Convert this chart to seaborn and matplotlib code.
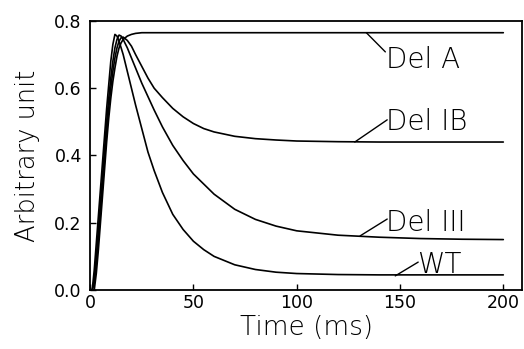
import matplotlib
matplotlib.use("Agg")
import matplotlib.pyplot as plt
import seaborn as sns
import pandas as pd

# ---- data ----
time_ms = [0, 1, 2, 3, 4, 5, 6, 7, 8, 9, 10, 11, 12, 13, 14, 15, 16, 18, 20, 22,
           25, 28, 31, 35, 40, 45, 50, 55, 60, 70, 80, 90, 100, 120, 140, 160, 180, 200]

wt = [0, 0, 0.06, 0.14, 0.22, 0.30, 0.38, 0.46, 0.54, 0.61, 0.68, 0.73, 0.76, 0.755,
      0.74, 0.72, 0.70, 0.65, 0.60, 0.55, 0.48, 0.41, 0.355, 0.29, 0.225, 0.18, 0.145,
      0.12, 0.10, 0.075, 0.061, 0.053, 0.049, 0.046, 0.045, 0.045, 0.045, 0.045]

del_iii = [0, 0, 0.03, 0.10, 0.18, 0.26, 0.34, 0.42, 0.50, 0.57, 0.63, 0.68, 0.72, 0.745,
           0.758, 0.755, 0.745, 0.72, 0.69, 0.66, 0.615, 0.575, 0.535, 0.485, 0.43, 0.385,
           0.345, 0.315, 0.285, 0.24, 0.21, 0.19, 0.176, 0.163, 0.157, 0.153, 0.151, 0.15]

del_ib = [0, 0, 0.02, 0.08, 0.15, 0.23, 0.31, 0.39, 0.47, 0.54, 0.60, 0.65, 0.69, 0.72,
          0.74, 0.75, 0.752, 0.742, 0.725, 0.70, 0.665, 0.63, 0.60, 0.572, 0.54, 0.515,
          0.495, 0.48, 0.47, 0.457, 0.45, 0.446, 0.443, 0.441, 0.44, 0.44, 0.44, 0.44]

del_a = [0, 0, 0, 0.05, 0.12, 0.20, 0.28, 0.36, 0.44, 0.51, 0.57, 0.62, 0.66, 0.695,
         0.72, 0.735, 0.745, 0.755, 0.76, 0.763, 0.765, 0.765, 0.765, 0.765, 0.765, 0.765,
         0.765, 0.765, 0.765, 0.765, 0.765, 0.765, 0.765, 0.765, 0.765, 0.765, 0.765, 0.765]

series_names = ["Del A", "Del IB", "Del III", "WT"]
x_ticks = [0, 50, 100, 150, 200]
y_ticks = [0.0, 0.2, 0.4, 0.6, 0.8]

frames = []
for name, vals in zip(series_names, [del_a, del_ib, del_iii, wt]):
    frames.append(pd.DataFrame({"time": time_ms, "value": vals, "construct": name}))
df = pd.concat(frames, ignore_index=True)

# ---- style ----
sns.set_theme(style="ticks")
plt.rcParams["font.family"] = ["DejaVu Sans"]
plt.rcParams["text.color"] = "black"
plt.rcParams["axes.labelcolor"] = "black"

fig = plt.figure(figsize=(5.24, 3.49), dpi=100)
ax = fig.add_axes([0.172, 0.169, 0.824, 0.771])

sns.lineplot(data=df, x="time", y="value", hue="construct",
             palette=["black"] * 4, legend=False, linewidth=1.2, ax=ax,
             estimator=None, sort=False)

ax.set_xlim(0, 209)
ax.set_ylim(0, 0.8)
ax.set_xticks(x_ticks)
ax.set_xticklabels([str(t) for t in x_ticks], fontweight="normal")
ax.set_yticks(y_ticks)
ax.set_yticklabels([f"{t:.1f}" for t in y_ticks], fontweight="normal")

for s in ax.spines.values():
    s.set_visible(True)
    s.set_linewidth(1.3)
    s.set_color("black")

ax.tick_params(direction="in", length=4, width=1, colors="black",
               labelcolor="black", labelsize=12.5, pad=3, top=False, right=False)
ax.tick_params(axis="y", pad=6)

ax.set_xlabel("Time (ms)", fontsize=19, labelpad=2, color="black", fontweight="light")
ax.set_ylabel("Arbitrary unit", fontsize=18.5, labelpad=10, color="black", fontweight="light")

# labels with leader lines (layout positions in data coords)
label_specs = [
    # text, line start, line end, text x, text baseline y
    ("Del A", (133.7, 0.765), (142.9, 0.708), 143.3, 0.661),
    ("Del IB", (128.1, 0.440), (143.8, 0.506), 143.3, 0.476),
    ("Del III", (130.7, 0.161), (143.8, 0.211), 143.3, 0.176),
    ("WT", (147.7, 0.042), (158.8, 0.083), 158.3, 0.051),
]
for txt, p0, p1, tx, ty in label_specs:
    ax.plot([p0[0], p1[0]], [p0[1], p1[1]], color="black", lw=1.0)
    ax.text(tx, ty, txt, fontsize=20, ha="left", va="baseline",
            color="black", fontweight="light")

fig.savefig("out.png", dpi=100)
